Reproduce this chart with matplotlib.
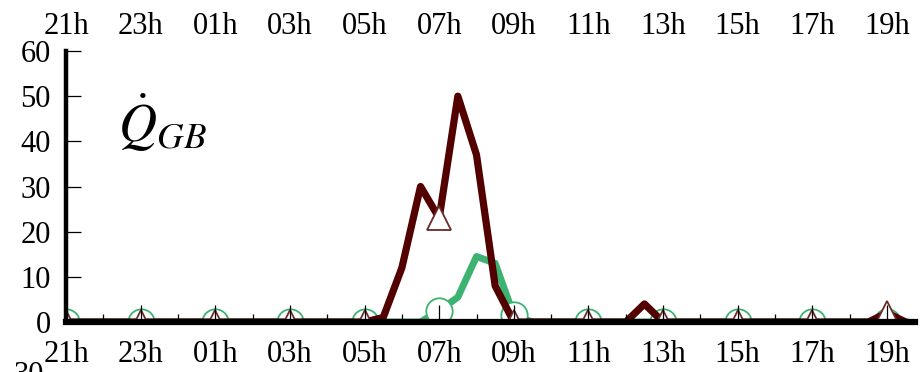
import numpy as np
import matplotlib.pyplot as plt
from matplotlib.ticker import MultipleLocator

plt.rcParams['font.family'] = ['Liberation Serif', 'DejaVu Serif']
plt.rcParams['mathtext.fontset'] = 'stix'

# half-hourly samples, hours counted from 21h
t = np.arange(0, 23, 0.5)
tick_labels = ['21h', '23h', '01h', '03h', '05h', '07h', '09h', '11h', '13h', '15h', '17h', '19h']

# gas boiler heat output (kW)
q_gb_dark = [0, 0, 0, 0, 0, 0, 0, 0, 0, 0, 0, 0, 0, 0, 0, 0,
             0, 1, 12, 30, 23, 50, 37, 8, 0, 0, 0, 0, 0, 0,
             0, 4, 0, 0, 0, 0, 0, 0, 0, 0, 0, 0, 0, 0, 2, 0]
q_gb_green = [0, 0, 0, 0, 0, 0, 0, 0, 0, 0, 0, 0, 0, 0, 0, 0,
              0, 0, 0, 0, 2.5, 5.5, 14.5, 13, 1.5, 0, 0, 0, 0, 0,
              0, 0, 0, 0, 0, 0, 0, 0, 0, 0, 0, 0, 0, 0, 0, 0]

fig = plt.figure(figsize=(9.22, 3.72), dpi=100)
ax = fig.add_axes([0.0716, 0.1344, 0.9208, 0.7285])

ax.plot(t, q_gb_green, color='#3cb371', lw=5, marker='o', markevery=4,
        ms=19, mfc='white', mec='#3cb371', mew=1.3)
ax.plot(t, q_gb_dark, color='#520000', lw=5.2, marker='^', markevery=4,
        ms=17, mfc='white', mec='#6a2a2a', mew=1.3)

ax.set_xlim(0, 22.75)
ax.set_ylim(0, 60)
ax.set_xticks(np.arange(0, 23, 2))
ax.set_xticklabels(tick_labels)
ax.xaxis.set_minor_locator(MultipleLocator(1))
ax.set_yticks(range(0, 61, 10))

for side in ['top', 'right']:
    ax.spines[side].set_visible(False)
ax.spines['left'].set_linewidth(3.2)
ax.spines['bottom'].set_linewidth(4.5)
ax.set_axisbelow(False)

ax.tick_params(axis='x', which='both', direction='in', top=False,
               labelsize=22, pad=13)
ax.tick_params(axis='x', which='major', length=12, width=0.9)
ax.tick_params(axis='x', which='minor', length=6, width=0.9)
ax.tick_params(axis='y', direction='in', length=11, width=0.9,
               labelsize=22, pad=11)

# same hour labels repeated along the top edge
top = ax.secondary_xaxis('top')
top.set_xticks(np.arange(0, 23, 2))
top.set_xticklabels(tick_labels)
top.tick_params(length=0, labelsize=22, pad=7)
top.spines['top'].set_visible(False)

ax.text(0.061, 0.665, r'$\dot{Q}_{GB}$', transform=ax.transAxes,
        fontsize=38, ha='left', va='baseline')

# y label of the panel below, cut off by the figure edge
fig.text(0.048, 0.03, '30', ha='right', va='top', fontsize=22)

fig.savefig('out.png', dpi=100)
